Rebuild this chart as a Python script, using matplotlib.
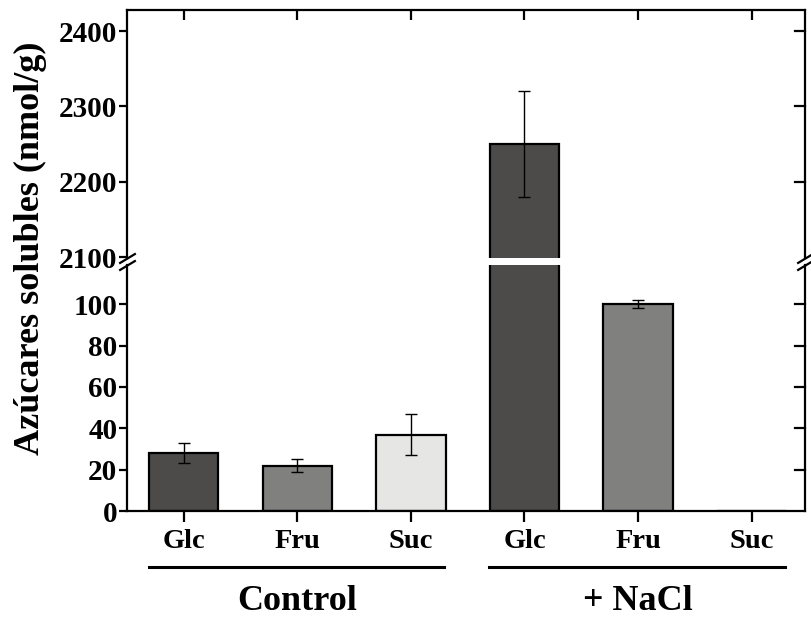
import numpy as np
import matplotlib.pyplot as plt
from matplotlib import transforms

plt.rcParams['font.family'] = ['Liberation Serif', 'DejaVu Serif']
plt.rcParams['font.weight'] = 'bold'

# data
groups = ["Control", "+ NaCl"]
sugars = ["Glc", "Fru", "Suc"]
control_mean = [28, 22, 37]
control_err = [5, 3, 10]
nacl_mean = [2250, 100, 0]
nacl_err = [70, 2, 0]
sugar_colors = ["#4d4b49", "#80807f", "#e6e6e4"]

means = control_mean + nacl_mean
errs = control_err + nacl_err
colors = sugar_colors * 2
labels = sugars * 2
x = np.arange(len(means))

fig = plt.figure(figsize=(8.11, 6.21), dpi=100)
ax_top = fig.add_axes([127 / 811, 1 - 258 / 621, 678 / 811, 248 / 621])
ax_low = fig.add_axes([127 / 811, 1 - 511 / 621, 678 / 811, 246 / 621])

for ax in (ax_top, ax_low):
    ax.bar(x, means, width=0.61, color=colors, edgecolor="black", linewidth=1.6, zorder=2)
    for xi, m, e in zip(x, means, errs):
        if e > 0:
            ax.errorbar(xi, m, yerr=e, fmt="none", ecolor="black", elinewidth=1.0,
                        capsize=4.5, capthick=1.0, zorder=3)
    ax.set_xlim(-0.5, 5.47)
    for s in ax.spines.values():
        s.set_linewidth(1.6)

ax_top.set_ylim(2099, 2428)
ax_top.set_yticks([2100, 2200, 2300, 2400])
ax_top.spines["bottom"].set_visible(False)
ax_top.set_xticks(x)
ax_top.tick_params(axis="x", which="both", bottom=False, labelbottom=False,
                   top=True, direction="in", length=7, width=1.6)

ax_low.set_ylim(0, 119)
ax_low.set_yticks([0, 20, 40, 60, 80, 100])
ax_low.spines["top"].set_visible(False)
ax_low.set_xticks(x)
ax_low.set_xticklabels(labels)
ax_low.tick_params(axis="x", direction="out", length=8, width=1.6, pad=5, labelsize=20.5)

for ax in (ax_top, ax_low):
    ax.tick_params(axis="y", which="both", left=True, right=False, direction="out",
                   length=6, width=1.6, labelsize=21, pad=1)
    for lab in ax.get_yticklabels() + ax.get_xticklabels():
        lab.set_fontweight("bold")

# inward ticks on the right spine, without the break value
for ax, ticks in ((ax_top, [2200, 2300, 2400]), (ax_low, [20, 40, 60, 80, 100])):
    tr = transforms.blended_transform_factory(ax.transAxes, ax.transData)
    for t in ticks:
        ax.plot([1.0, 0.985], [t, t], color="black", lw=1.6, transform=tr,
                clip_on=False, zorder=4)

# break marks on both spines
kw = dict(marker=[(-1, -0.6), (1, 0.6)], markersize=12, linestyle="none",
          color="black", mec="black", mew=1.6, clip_on=False)
ax_top.plot([0, 1], [0, 0], transform=ax_top.transAxes, **kw)
ax_low.plot([0, 1], [1, 1], transform=ax_low.transAxes, **kw)

# group lines and labels under the axis
trans = transforms.blended_transform_factory(ax_low.transData, fig.transFigure)
y_line = 1 - 567 / 621
for gi, g in enumerate(groups):
    start = gi * 3
    ax_low.plot([start - 0.31, start + 2.29], [y_line, y_line], color="black", lw=2.2,
                transform=trans, clip_on=False)
    fig.text(start + 1, 1 - 602 / 621, g, transform=trans, ha="center", va="center",
             fontsize=26, fontweight="bold")

fig.text(30 / 811, 1 - 248 / 621, "Azúcares solubles (nmol/g)", rotation=90,
         ha="center", va="center", fontsize=26, fontweight="bold")

fig.savefig("out.png", dpi=100)
